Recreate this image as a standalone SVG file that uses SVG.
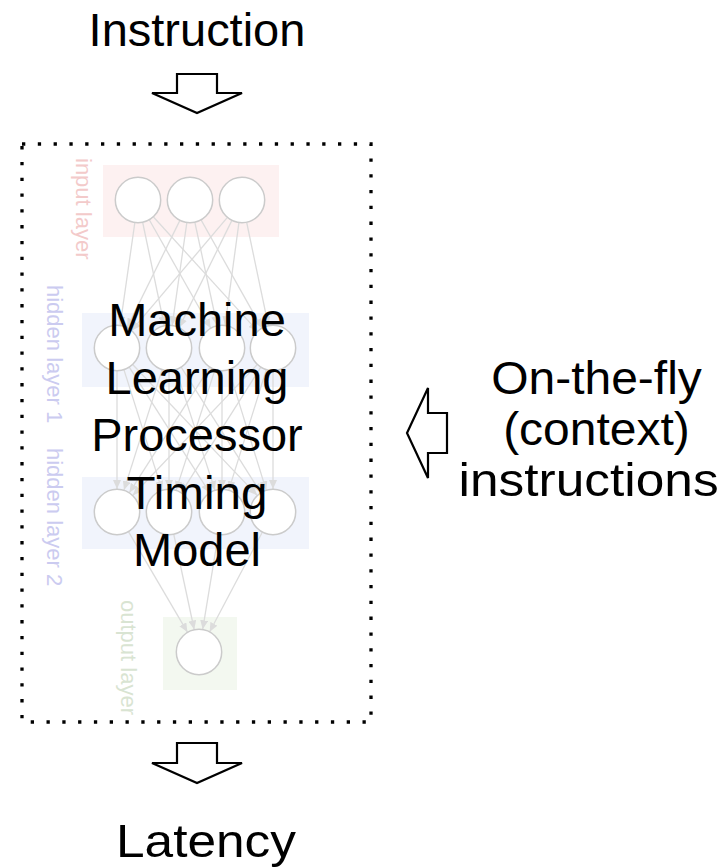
<svg xmlns="http://www.w3.org/2000/svg" width="718" height="868" viewBox="0 0 718 868">
  <style>
    .big { font-family: "Liberation Sans", Arial, sans-serif; font-size: 45.5px; fill: #000; text-anchor: middle; }
    .lbl { font-family: "Liberation Sans", Arial, sans-serif; font-size: 22px; }
    .neuron { fill: #ffffff; stroke: #cbcbcb; stroke-width: 1.5; }
    .edge { stroke: #dcdcdc; stroke-width: 1.3; fill: none; marker-end: url(#head); }
    .block { fill: #ffffff; stroke: #000; stroke-width: 2.2; stroke-linejoin: miter; }
  </style>
  <defs>
    <marker id="head" markerWidth="9" markerHeight="8" refX="9" refY="4" orient="auto" markerUnits="userSpaceOnUse">
      <path d="M0,0 L9,4 L0,8 Z" fill="#dcdcdc"/>
    </marker>
  </defs>

  <rect width="718" height="868" fill="#ffffff"/>

  <!-- layer backgrounds -->
  <g id="layer-bands">
    <rect x="103" y="165" width="176" height="72" fill="#fdf1f1"/>
    <rect x="82" y="313" width="227" height="74" fill="#f1f4fc"/>
    <rect x="82" y="477" width="227" height="72" fill="#f1f4fc"/>
    <rect x="163" y="617" width="74" height="73" fill="#f3f8f0"/>
  </g>

  <!-- layer names -->
  <g id="layer-names">
    <text class="lbl" fill="#f3caca" transform="translate(76,158) rotate(90)">input layer</text>
    <text class="lbl" fill="#cbcbf0" transform="translate(47,285) rotate(90)">hidden layer 1</text>
    <text class="lbl" fill="#cbcbf0" transform="translate(47,448) rotate(90)">hidden layer 2</text>
    <text class="lbl" fill="#d9e4d2" transform="translate(121,600) rotate(90)">output layer</text>
  </g>

  <!-- connections between neurons -->
  <g id="connectors">
    <line class="edge" x1="134.8" y1="222.8" x2="120.2" y2="325.2"/>
    <line class="edge" x1="142.7" y1="222.5" x2="164.3" y2="325.5"/>
    <line class="edge" x1="149.4" y1="220" x2="210.6" y2="328"/>
    <line class="edge" x1="153.5" y1="217" x2="257.5" y2="331"/>
    <line class="edge" x1="179.8" y1="220.6" x2="127.2" y2="327.4"/>
    <line class="edge" x1="186.8" y1="222.8" x2="172.2" y2="325.2"/>
    <line class="edge" x1="194.9" y1="222.5" x2="217.1" y2="325.5"/>
    <line class="edge" x1="201.2" y1="220.1" x2="261.8" y2="327.9"/>
    <line class="edge" x1="227.2" y1="217.6" x2="131.8" y2="330.4"/>
    <line class="edge" x1="231.8" y1="220.6" x2="179.2" y2="327.4"/>
    <line class="edge" x1="238.9" y1="222.8" x2="225.1" y2="325.2"/>
    <line class="edge" x1="246.7" y1="222.5" x2="268.3" y2="325.5"/>

    <line class="edge" x1="117" y1="371" x2="117" y2="489"/>
    <line class="edge" x1="124" y1="369.9" x2="162" y2="490.1"/>
    <line class="edge" x1="129.4" y1="367.4" x2="209.6" y2="492.6"/>
    <line class="edge" x1="132.9" y1="364.7" x2="257.1" y2="495.3"/>
    <line class="edge" x1="162" y1="369.9" x2="124" y2="490.1"/>
    <line class="edge" x1="169" y1="371" x2="169" y2="489"/>
    <line class="edge" x1="176.1" y1="369.9" x2="214.9" y2="490.1"/>
    <line class="edge" x1="181.3" y1="367.4" x2="260.7" y2="492.6"/>
    <line class="edge" x1="209.6" y1="367.4" x2="129.4" y2="492.6"/>
    <line class="edge" x1="214.9" y1="369.9" x2="176.1" y2="490.1"/>
    <line class="edge" x1="222" y1="371" x2="222" y2="489"/>
    <line class="edge" x1="228.8" y1="369.9" x2="266.2" y2="490.1"/>
    <line class="edge" x1="257.1" y1="364.7" x2="132.9" y2="495.3"/>
    <line class="edge" x1="260.7" y1="367.4" x2="181.3" y2="492.6"/>
    <line class="edge" x1="266.2" y1="369.9" x2="228.8" y2="490.1"/>
    <line class="edge" x1="273" y1="371" x2="273" y2="489"/>

    <line class="edge" x1="128.6" y1="531.9" x2="187.4" y2="632.1"/>
    <line class="edge" x1="173.8" y1="534.5" x2="194.2" y2="629.5"/>
    <line class="edge" x1="218.3" y1="534.7" x2="202.7" y2="629.3"/>
    <line class="edge" x1="262.3" y1="532.3" x2="209.7" y2="631.7"/>
  </g>

  <!-- neurons -->
  <g id="input-layer">
    <circle class="neuron" cx="138" cy="200" r="22.7"/>
    <circle class="neuron" cx="190" cy="200" r="22.7"/>
    <circle class="neuron" cx="242" cy="200" r="22.7"/>
  </g>
  <g id="hidden-layer-1">
    <circle class="neuron" cx="117" cy="348" r="22.7"/>
    <circle class="neuron" cx="169" cy="348" r="22.7"/>
    <circle class="neuron" cx="222" cy="348" r="22.7"/>
    <circle class="neuron" cx="273" cy="348" r="22.7"/>
  </g>
  <g id="hidden-layer-2">
    <circle class="neuron" cx="117" cy="512" r="22.7"/>
    <circle class="neuron" cx="169" cy="512" r="22.7"/>
    <circle class="neuron" cx="222" cy="512" r="22.7"/>
    <circle class="neuron" cx="273" cy="512" r="22.7"/>
  </g>
  <g id="output-layer">
    <circle class="neuron" cx="199" cy="652" r="22.7"/>
  </g>

  <!-- model boundary -->
  <g id="model-box">
    <rect x="22" y="144" width="349" height="578" fill="none" stroke="#000" stroke-width="3.3" stroke-dasharray="3.3 12.5"/>
    <text class="big" x="197" y="336" textLength="177.6" lengthAdjust="spacingAndGlyphs">Machine</text>
    <text class="big" x="197" y="393.5" textLength="182.9" lengthAdjust="spacingAndGlyphs">Learning</text>
    <text class="big" x="197" y="451" textLength="211.5" lengthAdjust="spacingAndGlyphs">Processor</text>
    <text class="big" x="197" y="508.5" textLength="141" lengthAdjust="spacingAndGlyphs">Timing</text>
    <text class="big" x="197" y="566" textLength="128" lengthAdjust="spacingAndGlyphs">Model</text>
  </g>

  <g id="instruction">
    <text class="big" x="197" y="46" textLength="216.8" lengthAdjust="spacingAndGlyphs">Instruction</text>
  </g>
  <g id="arrow-in">
    <polygon class="block" points="177,74 217,74 217,93 242,93 197,113 152,93 177,93"/>
  </g>
  <g id="arrow-out">
    <polygon class="block" points="177,743 217,743 217,763 242,763 197,783 152,763 177,763"/>
  </g>
  <g id="latency">
    <text class="big" x="206" y="857" textLength="180" lengthAdjust="spacingAndGlyphs">Latency</text>
  </g>

  <g id="context-arrow">
    <polygon class="block" points="407,433 428,388 428,413 447,413 447,453 428,453 428,478"/>
  </g>
  <g id="context">
    <text class="big" x="596.5" y="393.5" textLength="210.7" lengthAdjust="spacingAndGlyphs">On-the-fly</text>
    <text class="big" x="596.5" y="444.5" textLength="186.7" lengthAdjust="spacingAndGlyphs">(context)</text>
    <text class="big" x="588.6" y="495.5" textLength="260" lengthAdjust="spacingAndGlyphs">instructions</text>
  </g>
</svg>
